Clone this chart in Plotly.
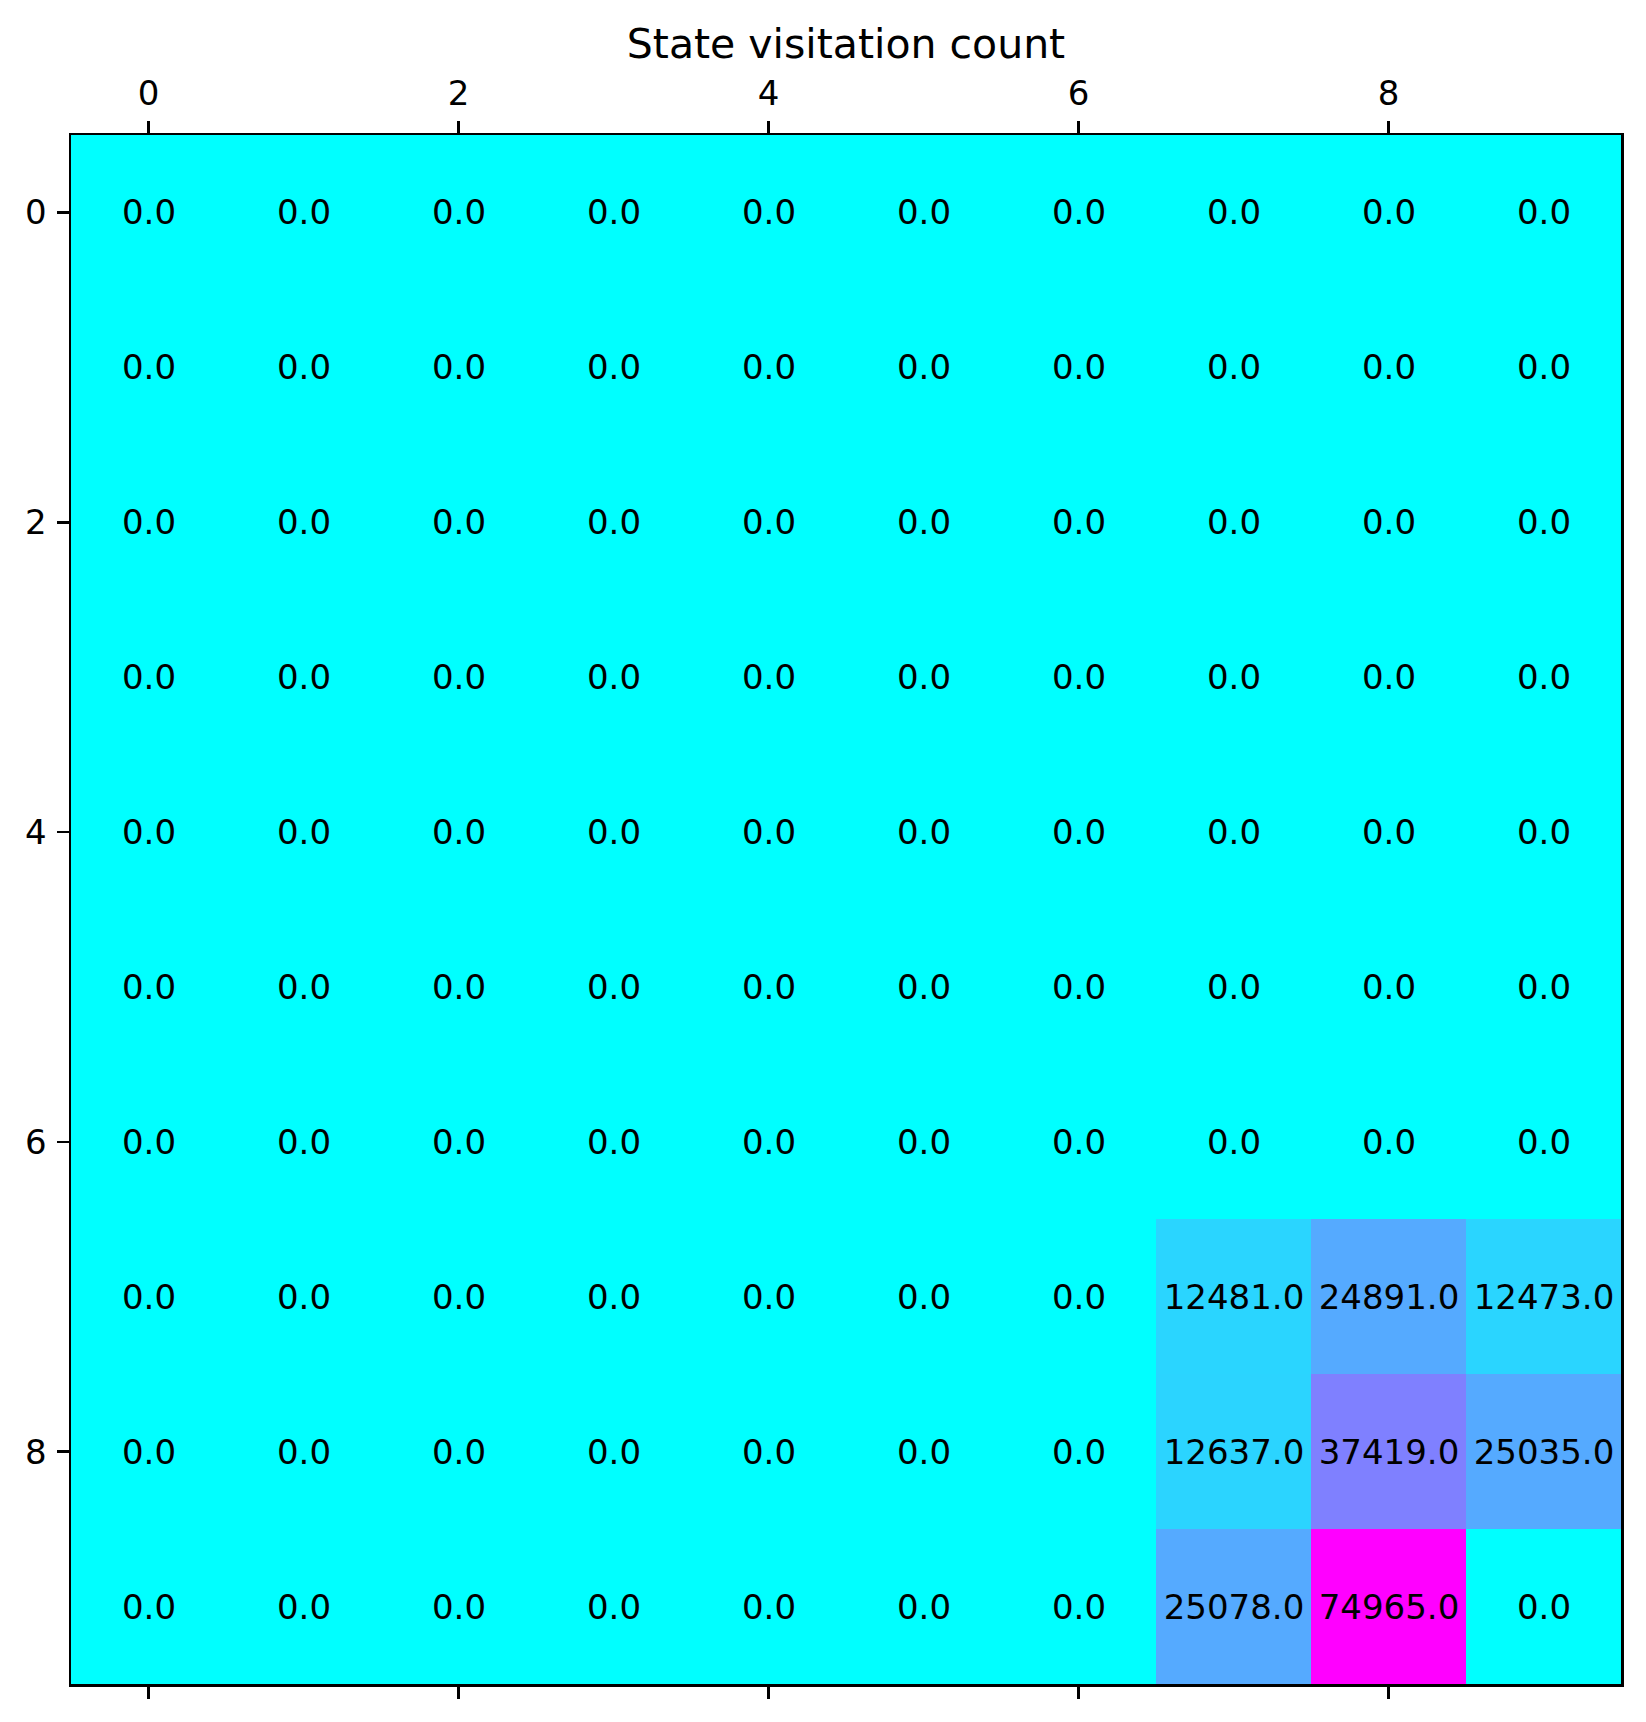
import plotly.graph_objects as go

rows = list(range(10))
cols = list(range(10))
counts = [
    [0.0] * 10,
    [0.0] * 10,
    [0.0] * 10,
    [0.0] * 10,
    [0.0] * 10,
    [0.0] * 10,
    [0.0] * 10,
    [0.0] * 7 + [12481.0, 24891.0, 12473.0],
    [0.0] * 7 + [12637.0, 37419.0, 25035.0],
    [0.0] * 7 + [25078.0, 74965.0, 0.0],
]
tick_vals = [0, 2, 4, 6, 8]
title_text = "State visitation count"

W, H = 1646, 1722
L, R, T, B = 71, 25, 135, 38
FONT = "DejaVu Sans"

fig = go.Figure(
    go.Heatmap(
        z=counts,
        x=cols,
        y=rows,
        colorscale=[[0, "rgb(0,255,255)"], [1, "rgb(255,0,255)"]],
        zmin=0,
        zmax=max(max(r) for r in counts),
        showscale=False,
        texttemplate="%{z:.1f}",
        textfont=dict(family=FONT, size=34, color="black"),
        hoverinfo="skip",
    )
)

fig.update_layout(
    width=W,
    height=H,
    margin=dict(l=L, r=R, t=T, b=B, pad=0, autoexpand=False),
    paper_bgcolor="white",
    plot_bgcolor="white",
    font=dict(family=FONT, color="black"),
    title=dict(
        text=title_text,
        font=dict(family=FONT, size=41, color="black"),
        x=0.5,
        xanchor="center",
        xref="paper",
        y=1 - 44 / H,
        yref="container",
        yanchor="middle",
    ),
    showlegend=False,
)

fig.update_xaxes(
    side="top",
    range=[-0.5, 9.5],
    tickvals=tick_vals,
    ticktext=[str(v) for v in tick_vals],
    ticks="outside",
    ticklen=12,
    tickwidth=2.5,
    tickcolor="black",
    ticklabelstandoff=2,
    tickfont=dict(family=FONT, size=34, color="black"),
    showline=True,
    linecolor="black",
    linewidth=2.5,
    mirror="ticks",
    showgrid=False,
    zeroline=False,
    automargin=False,
    fixedrange=True,
)
fig.update_yaxes(
    range=[9.5, -0.5],
    tickvals=tick_vals,
    ticktext=[str(v) for v in tick_vals],
    ticks="outside",
    ticklen=12,
    tickwidth=2.5,
    tickcolor="black",
    ticklabelstandoff=3,
    tickfont=dict(family=FONT, size=34, color="black"),
    showline=True,
    linecolor="black",
    linewidth=2.5,
    mirror=True,
    showgrid=False,
    zeroline=False,
    automargin=False,
    fixedrange=True,
)

fig.write_html(
    "out.html",
    config={"displayModeBar": False, "staticPlot": True},
    post_script="document.body.style.margin='0';document.body.style.padding='0';",
)
